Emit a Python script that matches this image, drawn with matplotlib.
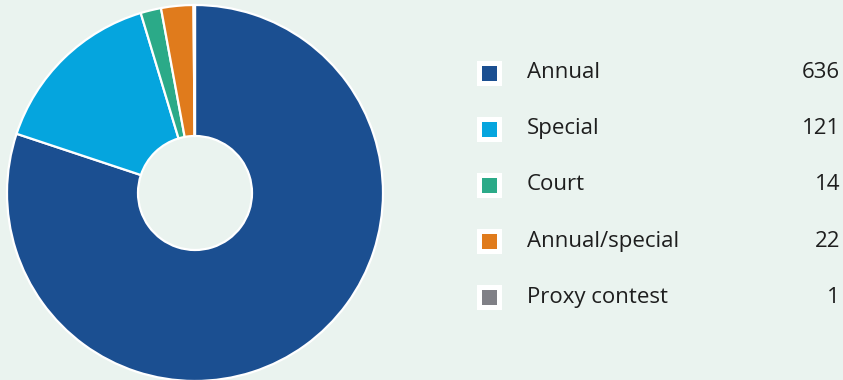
import matplotlib

matplotlib.use("Agg")
import matplotlib.pyplot as plt
import numpy as np

CATEGORIES = ["Annual", "Special", "Court", "Annual/special", "Proxy contest"]
COUNTS = [636, 121, 14, 22, 1]
COLORS = ["#1B4F91", "#05A5DE", "#2BAA88", "#E07B1C", "#808086"]
BG = "#EAF3EF"

W, H = 843, 380
fig = plt.figure(figsize=(W / 100, H / 100), dpi=100, facecolor=BG)

# donut
r_px = 188
cx, cy = 195, H - 193
ax = fig.add_axes([(cx - r_px) / W, (cy - r_px) / H, 2 * r_px / W, 2 * r_px / H])
ax.set_facecolor(BG)
ax.pie(
    COUNTS,
    colors=COLORS,
    startangle=90,
    counterclock=False,
    radius=1.0,
    wedgeprops={"width": 1 - 57 / r_px, "edgecolor": "white", "linewidth": 1.6},
)
ax.set_xlim(-1, 1)
ax.set_ylim(-1, 1)
ax.set_aspect("equal")
ax.axis("off")

# legend table
lax = fig.add_axes([0, 0, 1, 1], facecolor="none")
lax.set_xlim(0, W)
lax.set_ylim(H, 0)
lax.axis("off")
row_y = 72.5 + 56.2 * np.arange(len(CATEGORIES))
for y, name, val, col in zip(row_y, CATEGORIES, COUNTS, COLORS):
    lax.plot(489, y, marker="s", ms=14.5, mew=3.6, mfc=col, mec="white", ls="none")
    lax.text(527, y, name, fontsize=16, family="Open Sans", color="#1E1E1E",
             va="center", ha="left")
    lax.text(840, y, str(val), fontsize=16, family="Open Sans", color="#1E1E1E",
             va="center", ha="right")

fig.savefig("out.png", dpi=100, facecolor=BG)
